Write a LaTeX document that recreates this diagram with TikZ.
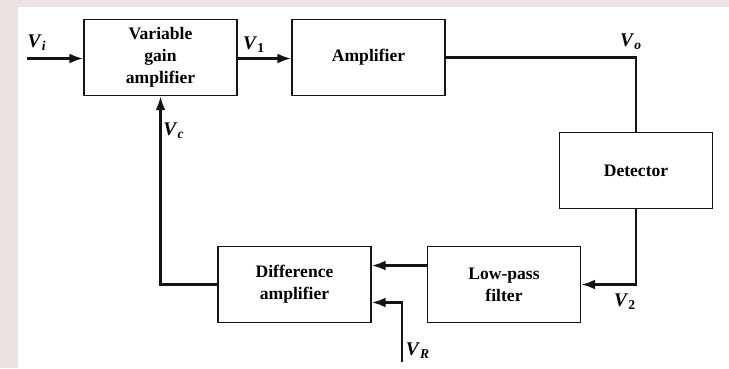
\documentclass[tikz,border=0pt]{standalone}
\usepackage{fontspec}
\setmainfont{Liberation Serif}
\usepackage{xcolor}
\usepackage{tikz}
\usetikzlibrary{positioning, arrows.meta}
\definecolor{scanedge}{HTML}{ECE3E2}
\definecolor{inkblack}{HTML}{141414}
\newcommand{\sigv}[1]{\textbf{\textit{V}}\textsubscript{\textbf{#1}}}

\begin{document}
\begin{tikzpicture}[x=0.02cm, y=-0.02cm]
    % Styles
    \tikzstyle{block} = [rectangle, draw=inkblack, line width=0.85pt, align=center, minimum width=3.06cm, minimum height=1.52cm, inner sep=0pt, font=\fontsize{10}{12.5}\selectfont\bfseries]
    \tikzstyle{sig} = [draw=inkblack, line width=1.4pt, -{Latex[length=2.8mm, width=2mm]}]
    \tikzstyle{wire} = [draw=inkblack, line width=1.4pt]
    \tikzstyle{lbl} = [inner sep=0pt, font=\fontsize{11}{12}\selectfont]

    % Paper
    \fill[scanedge] (0,0) rectangle (729,368);
    \fill[white] (18,7) rectangle (729,368);
    \useasboundingbox (0,0) rectangle (729,368);

    % Nodes
    \node [block] (vga) at (160.5,57.5) {Variable\\gain\\amplifier};
    \node [block] (amp) at (368.5,57.5) {Amplifier};
    \node [block] (det) at (636,170.5) {Detector};
    \node [block] (lpf) at (504,284.5) {Low-pass\\filter};
    \node [block] (diff) at (294.5,284.5) {Difference\\amplifier};
    \coordinate (vin) at (27,58.5);
    \coordinate (vref) at (402,362);

    % Labels
    \node [lbl] (vi) at (37,43) {\sigv{\textit{i}}};
    \node [lbl] (v1) at (254,45) {\sigv{1}};
    \node [lbl] (vo) at (631,42) {\sigv{\textit{o}}};
    \node [lbl] (vc) at (174,131) {\sigv{\textit{c}}};
    \node [lbl] (v2) at (625,302) {\sigv{2}};
    \node [lbl] (vr) at (418,351) {\sigv{\textit{R}}};

    % Paths
    \path [sig] (vin) -- (vga.west |- vin);
    \path [sig] (vga.east |- vin) -- (amp.west |- vin);
    \path [wire] (amp.east) -| (det.north);
    \path [sig] (det.south) |- (lpf.east);
    \path [sig] ([yshift=0.38cm]lpf.west) -- ([yshift=0.38cm]diff.east);
    \path [sig] (vref) |- ([yshift=-0.36cm]diff.east);
    \path [sig] (diff.west) -| (vga.south);
\end{tikzpicture}
\end{document}
